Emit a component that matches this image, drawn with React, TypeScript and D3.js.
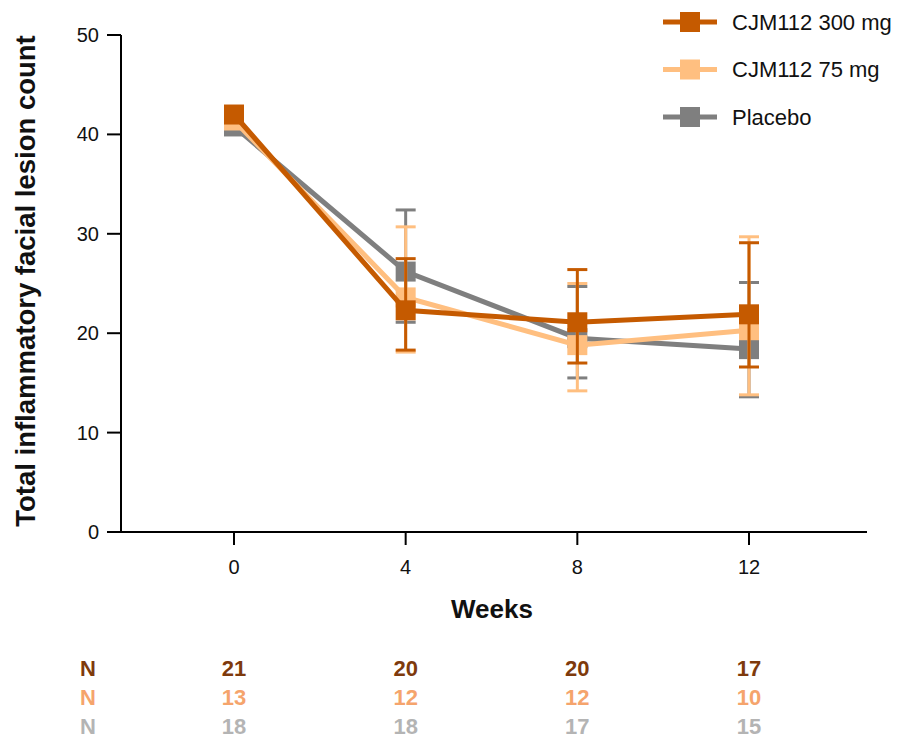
import React from 'react';
import * as d3 from 'd3';

// weeks on the x axis
const weeks = [0, 4, 8, 12];
const yTicks = [0, 10, 20, 30, 40, 50];

// mean lesion counts per group
const hi = [42.0, 22.3, 21.1, 21.9];
const hiLow = [null, 18.3, 17.0, 16.6];
const hiHigh = [null, 27.5, 26.4, 29.1];

const lo = [41.4, 23.6, 18.8, 20.3];
const loLow = [null, 18.1, 14.2, 13.8];
const loHigh = [null, 30.7, 25.0, 29.7];

const pbo = [40.8, 26.2, 19.5, 18.4];
const pboLow = [null, 21.1, 15.5, 13.6];
const pboHigh = [null, 32.4, 24.7, 25.1];

// patients at each visit
const nHi = [21, 20, 20, 17];
const nLo = [13, 12, 12, 10];
const nPbo = [18, 18, 17, 15];

const groups = [
  {name: "Placebo", color: "#7f7f7f", mean: pbo, low: pboLow, high: pboHigh},
  {name: "CJM112 75 mg", color: "#ffbf80", mean: lo, low: loLow, high: loHigh},
  {name: "CJM112 300 mg", color: "#c55a00", mean: hi, low: hiLow, high: hiHigh},
];

const nRows = [
  {n: nHi, color: "#7e3a0c"},
  {n: nLo, color: "#f5a46c"},
  {n: nPbo, color: "#b4b4b4"},
];

const W = 905, H = 738;

export default function App() {
  const x = d3.scaleLinear().domain([0, 12]).range([234, 749]);
  const y = d3.scaleLinear().domain([0, 50]).range([532, 35]);
  const line = d3.line<number>().x((d, i) => x(weeks[i])).y(d => y(d));
  const sq = 20, cap = 10;
  const font = "Arial, 'Liberation Sans', sans-serif";
  const narrow = "'Liberation Sans Narrow', 'Arial Narrow', Arial, sans-serif";

  return (
    <svg width={W} height={H} style={{position: "absolute", left: 0, top: 0, background: "#fff"}}>
      {/* axes */}
      <line x1={107} x2={867} y1={y(0)} y2={y(0)} stroke="#000" strokeWidth={2} />
      <line x1={121} x2={121} y1={y(50)} y2={y(0)} stroke="#000" strokeWidth={2} />
      {yTicks.map(t => (
        <g key={t}>
          <line x1={107} x2={121} y1={y(t)} y2={y(t)} stroke="#000" strokeWidth={2} />
          <text x={99} y={y(t)} dy="0.35em" textAnchor="end" fontFamily={font} fontSize={20} fill="#111">{t}</text>
        </g>
      ))}
      {weeks.map(w => (
        <g key={w}>
          <line x1={x(w)} x2={x(w)} y1={y(0)} y2={y(0) + 13} stroke="#000" strokeWidth={2} />
          <text x={x(w)} y={567} dy="0.35em" textAnchor="middle" fontFamily={font} fontSize={20} fill="#111">{w}</text>
        </g>
      ))}
      <text transform={`translate(35,281) rotate(-90)`} textAnchor="middle" fontFamily={font}
        fontSize={27.5} fontWeight="bold" fill="#111">Total inflammatory facial lesion count</text>
      <text x={492} y={609} dy="0.35em" textAnchor="middle" fontFamily={font} fontSize={26} fontWeight="bold" fill="#111">Weeks</text>

      {/* series */}
      {groups.map(g => (
        <g key={g.name}>
          {g.mean.map((m, i) => g.low[i] == null ? null : (
            <g key={i} stroke={g.color} strokeWidth={3}>
              <line x1={x(weeks[i])} x2={x(weeks[i])} y1={y(g.low[i] as number)} y2={y(g.high[i] as number)} />
              <line x1={x(weeks[i]) - cap} x2={x(weeks[i]) + cap} y1={y(g.low[i] as number)} y2={y(g.low[i] as number)} />
              <line x1={x(weeks[i]) - cap} x2={x(weeks[i]) + cap} y1={y(g.high[i] as number)} y2={y(g.high[i] as number)} />
            </g>
          ))}
          <path d={line(g.mean) || ""} fill="none" stroke={g.color} strokeWidth={5} />
          {g.mean.map((m, i) => (
            <rect key={i} x={x(weeks[i]) - sq / 2} y={y(m) - sq / 2} width={sq} height={sq} fill={g.color} />
          ))}
        </g>
      ))}

      {/* legend */}
      {groups.slice().reverse().map((g, i) => (
        <g key={g.name} transform={`translate(0,${22 + i * 47.5})`}>
          <line x1={663} x2={717} y1={0} y2={0} stroke={g.color} strokeWidth={5} />
          <rect x={680} y={-10} width={20} height={20} fill={g.color} />
          <text x={732} y={0} dy="0.35em" fontFamily={font} fontSize={22} fill="#111">{g.name}</text>
        </g>
      ))}

      {/* N at risk */}
      {nRows.map((r, j) => (
        <g key={j} fontFamily={narrow} fontWeight="bold" fontSize={22} fill={r.color}>
          <text x={88} y={668 + j * 29} dy="0.35em" textAnchor="middle">N</text>
          {r.n.map((v, i) => (
            <text key={i} x={x(weeks[i])} y={668 + j * 29} dy="0.35em" textAnchor="middle">{v}</text>
          ))}
        </g>
      ))}
    </svg>
  );
}
